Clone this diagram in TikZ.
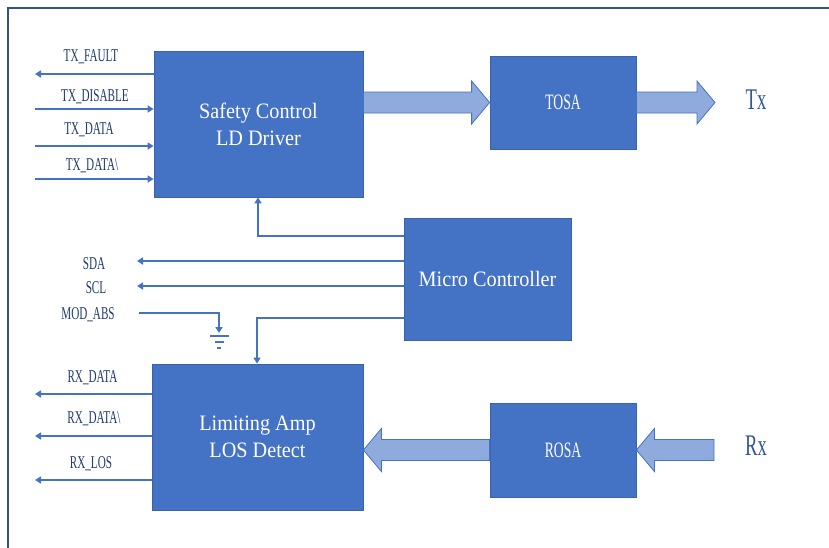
\documentclass[tikz,border=0pt]{standalone}
\usepackage{fontspec}
\setmainfont{Liberation Serif}
\newfontfamily\capsfont[FakeStretch=0.62]{Liberation Serif}
\newfontfamily\mixfont[FakeStretch=0.92]{Liberation Serif}
\usetikzlibrary{calc,arrows.meta}
\definecolor{boxblue}{HTML}{4472C4}
\definecolor{boxedge}{HTML}{3A62AC}
\definecolor{arrowfill}{HTML}{8FAADC}
\definecolor{lblcol}{HTML}{1F3A70}
\definecolor{txcol}{HTML}{2F5597}
\definecolor{framecol}{HTML}{2F528F}
\tikzset{
 block/.style={draw=boxedge, line width=0.8pt, fill=boxblue, text=white, inner sep=0pt, align=center},
 mixtext/.style={font=\mixfont\fontsize{22}{27}\selectfont},
 capstext/.style={font=\capsfont\fontsize{22}{27}\selectfont},
 sig/.style={draw=boxblue, line width=2pt, -{Triangle[length=6pt,width=7pt]}},
 wire/.style={draw=boxblue, line width=2.6pt},
 lbl/.style={font=\capsfont\fontsize{18}{20}\selectfont, text=lblcol, anchor=base, inner sep=0pt},
 fat/.style={fill=arrowfill, draw=boxblue, line width=0.8pt},
 port/.style={font=\capsfont\fontsize{30}{32}\selectfont, text=txcol, inner sep=0pt},
}
\newcommand\fatarrow[2]{\path[fat] let \p1=(#1), \p2=(#2), \n1={sign(\x2-\x1)} in
  (\x1,{\y1+10.5pt}) -- ({\x2-\n1*18pt},{\y1+10.5pt}) -- ({\x2-\n1*18pt},{\y1+21.5pt}) -- (\x2,\y1)
  -- ({\x2-\n1*18pt},{\y1-21.5pt}) -- ({\x2-\n1*18pt},{\y1-10.5pt}) -- (\x1,{\y1-10.5pt}) -- cycle;}
\begin{document}
\begin{tikzpicture}[x=1pt,y=-1pt]
\useasboundingbox (0,0) rectangle (829,547);
\fill[white] (0,0) rectangle (829,547);
\draw[framecol, line width=2.2pt] (8,548) -- (8,8) -- (830,8);

% blocks
\node[block, mixtext, minimum width=209pt, minimum height=146pt] (sc) at (258.5,124) {Safety Control\\LD Driver};
\node[block, capstext, minimum width=146pt, minimum height=93pt] (tosa) at (563,102.5) {TOSA};
\node[block, mixtext, minimum width=167pt, minimum height=122pt] (mc) at (487.5,279) {Micro Controller};
\node[block, mixtext, minimum width=211pt, minimum height=146pt] (la) at (257.5,437) {Limiting Amp\\LOS Detect};
\node[block, capstext, minimum width=146pt, minimum height=94pt] (rosa) at (563,450) {ROSA};

\node[port] (tx) at (756,100) {Tx};
\node[port] (rx) at (756,446) {Rx};

% fat arrows
\coordinate (txend) at (715,102.5);
\coordinate (rxstart) at (714,450);
\coordinate (a1) at (sc.east |- tosa.west);
\coordinate (a2) at (la.east |- rosa.west);
\fatarrow{a1}{tosa.west}
\fatarrow{tosa.east}{txend}
\fatarrow{rxstart}{rosa.east}
\fatarrow{rosa.west}{a2}

% TX side signals
\coordinate (tf) at (35,74);
\coordinate (td) at (35,109);
\coordinate (tda) at (35,146);
\coordinate (tdn) at (35,179);
\draw[sig] (sc.west |- tf) -- (tf);
\draw[sig] (td) -- (sc.west |- td);
\draw[sig] (tda) -- (sc.west |- tda);
\draw[sig] (tdn) -- (sc.west |- tdn);
\node[lbl] (ltf) at (91,61.7) {TX\_FAULT};
\node[lbl] (ltd) at (95,101) {TX\_DISABLE};
\node[lbl] (ltda) at (89,134.3) {TX\_DATA};
\node[lbl] (ltdn) at (92,170) {TX\_DATA\textbackslash};

% micro controller links
\coordinate (k1) at (258,236);
\coordinate (k2) at (257,318);
\coordinate (sda) at (137,261);
\coordinate (scl) at (137,286);
\draw[sig] (mc.west |- k1) -| (sc.south -| k1);
\draw[sig] (mc.west |- sda) -- (sda);
\draw[sig] (mc.west |- scl) -- (scl);
\draw[sig] (mc.west |- k2) -| (la.north -| k2);
\node[lbl] (lsda) at (94,269) {SDA};
\node[lbl] (lscl) at (96,293.5) {SCL};
\node[lbl] (lma) at (88,319) {MOD\_ABS};

% MOD_ABS to ground
\coordinate (ma) at (139,313);
\coordinate (gnd) at (219,333);
\draw[sig] (ma) -| (gnd);
\draw[wire] ($(gnd)+(-9.5,3)$) -- ($(gnd)+(9.5,3)$);
\draw[wire] ($(gnd)+(-4.5,9)$) -- ($(gnd)+(4.5,9)$);
\draw[wire] ($(gnd)+(-1.8,15)$) -- ($(gnd)+(1.8,15)$);

% RX side signals
\coordinate (rd) at (35,394);
\coordinate (rdn) at (35,436);
\coordinate (rl) at (35,480);
\draw[sig] (la.west |- rd) -- (rd);
\draw[sig] (la.west |- rdn) -- (rdn);
\draw[sig] (la.west |- rl) -- (rl);
\node[lbl] (lrd) at (92.5,382) {RX\_DATA};
\node[lbl] (lrdn) at (94,423) {RX\_DATA\textbackslash};
\node[lbl] (lrl) at (91,468) {RX\_LOS};
\end{tikzpicture}
\end{document}
